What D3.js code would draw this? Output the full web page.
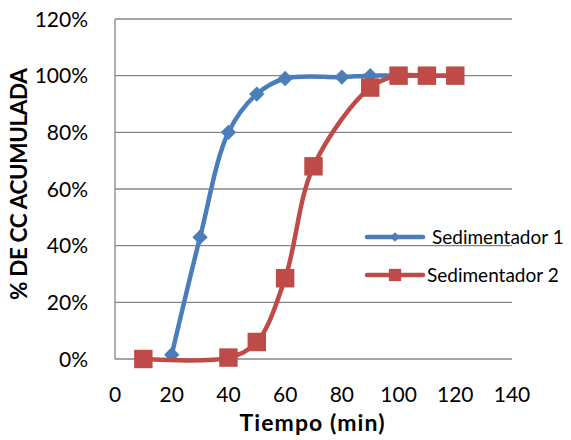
<!DOCTYPE html>
<html>
<head>
<meta charset="utf-8">
<script src="https://cdn.jsdelivr.net/npm/d3@7"></script>
<style>
  body { margin: 0; background: #fff; }
  text { font-family: Lato, "Open Sans", sans-serif; fill: #000; }
</style>
</head>
<body>
<svg></svg>
<script>
const width = 571;
const height = 440;

const xTicks = [0, 20, 40, 60, 80, 100, 120, 140];
const yTicks = [0, 0.2, 0.4, 0.6, 0.8, 1.0, 1.2];

const seriesNames = ['Sedimentador 1', 'Sedimentador 2'];
const time1 = [20, 30, 40, 50, 60, 80, 90, 100, 110, 120];
const values1 = [0.015, 0.43, 0.80, 0.935, 0.99, 0.995, 1.0, 1.0, 1.0, 1.0];
const time2 = [10, 40, 50, 60, 70, 90, 100, 110, 120];
const values2 = [0.0, 0.005, 0.06, 0.285, 0.68, 0.958, 1.0, 1.0, 1.0];

const colors = ['#4A7EBB', '#BE4B48'];

const margin = {left: 115, right: 59, top: 19, bottom: 81};

const svg = d3.select('svg')
    .attr('width', width).attr('height', height);

const x = d3.scaleLinear().domain([0, 140]).range([margin.left, width - margin.right]);
const y = d3.scaleLinear().domain([0, 1.2]).range([height - margin.bottom, margin.top]);

// gridlines
svg.append('g')
    .selectAll('line')
    .data(yTicks)
    .enter().append('line')
    .attr('x1', x(0)).attr('x2', x(140))
    .attr('y1', d => y(d)).attr('y2', d => y(d))
    .style('stroke', '#868686')
    .style('stroke-width', 1.3);

svg.append('line')
    .attr('x1', x(0)).attr('x2', x(0))
    .attr('y1', y(0)).attr('y2', y(1.2))
    .style('stroke', '#868686')
    .style('stroke-width', 1.3);

// tick labels
svg.append('g')
    .selectAll('text')
    .data(yTicks)
    .enter().append('text')
    .attr('x', x(0) - 27)
    .attr('y', d => y(d) + 7.5)
    .attr('text-anchor', 'end')
    .style('font-size', '21px')
    .text(d3.format('.0%'));

svg.append('g')
    .selectAll('text')
    .data(xTicks)
    .enter().append('text')
    .attr('x', d => x(d))
    .attr('y', y(0) + 43)
    .attr('text-anchor', 'middle')
    .style('font-size', '21px')
    .text(d => d);

// axis titles
svg.append('text')
    .attr('x', 312).attr('y', 431)
    .attr('text-anchor', 'middle')
    .attr('textLength', 145)
    .style('font-size', '23px')
    .style('font-weight', 'bold')
    .text('Tiempo (min)');

svg.append('text')
    .attr('transform', 'translate(27,184) rotate(-90)')
    .attr('text-anchor', 'middle')
    .attr('textLength', 232)
    .style('font-size', '22.5px')
    .style('font-weight', 'bold')
    .text('% DE CC ACUMULADA');

// series
const line = d3.line()
    .x(d => x(d[0]))
    .y(d => y(d[1]))
    .curve(d3.curveCatmullRom.alpha(0.5));

const data1 = time1.map((t, i) => [t, values1[i]]);
const data2 = time2.map((t, i) => [t, values2[i]]);

const diamond = d3.symbol().type(d3.symbolDiamond2).size(150);
const square = d3.symbol().type(d3.symbolSquare).size(340);

svg.append('path')
    .datum(data1)
    .attr('d', line)
    .style('fill', 'none')
    .style('stroke', colors[0])
    .style('stroke-width', 4.5);

svg.append('g')
    .selectAll('path')
    .data(data1)
    .enter().append('path')
    .attr('transform', d => `translate(${x(d[0])},${y(d[1])})`)
    .attr('d', diamond)
    .style('fill', colors[0]);

svg.append('path')
    .datum(data2)
    .attr('d', line)
    .style('fill', 'none')
    .style('stroke', colors[1])
    .style('stroke-width', 4.5);

svg.append('g')
    .selectAll('path')
    .data(data2)
    .enter().append('path')
    .attr('transform', d => `translate(${x(d[0])},${y(d[1])})`)
    .attr('d', square)
    .style('fill', colors[1]);

// legend
const legendY = [237, 275];
const legendSyms = [d3.symbol().type(d3.symbolDiamond2).size(60), d3.symbol().type(d3.symbolSquare).size(150)];
const legend = svg.append('g');
seriesNames.forEach((name, i) => {
    legend.append('line')
        .attr('x1', 367).attr('x2', 423)
        .attr('y1', legendY[i]).attr('y2', legendY[i])
        .style('stroke', colors[i])
        .style('stroke-width', 4.5)
        .style('stroke-linecap', 'round');
    legend.append('path')
        .attr('transform', `translate(395,${legendY[i]})`)
        .attr('d', legendSyms[i])
        .style('fill', colors[i]);
    legend.append('text')
        .attr('x', i === 0 ? 432 : 427)
        .attr('y', legendY[i] + 6.5)
        .style('font-size', '19px')
        .text(name);
});
</script>
</body>
</html>
